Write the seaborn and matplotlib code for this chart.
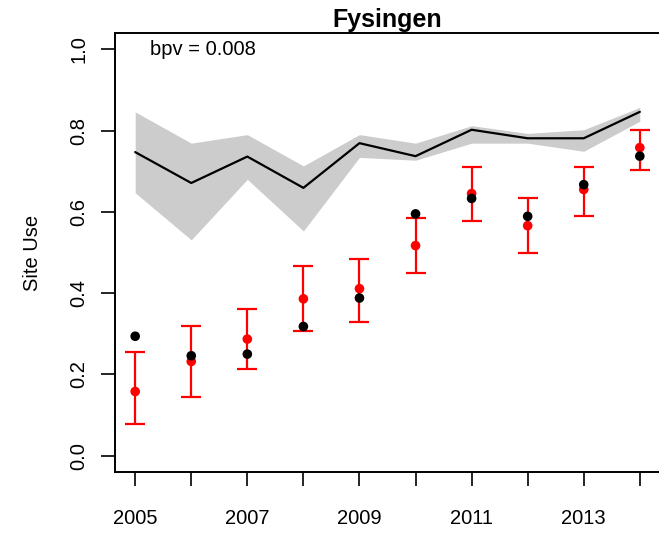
import numpy as np
import pandas as pd
import matplotlib
matplotlib.use("Agg")
import matplotlib.pyplot as plt
import seaborn as sns

# Values
years = [2005, 2006, 2007, 2008, 2009, 2010, 2011, 2012, 2013, 2014]
pred_mean = [0.747, 0.671, 0.736, 0.659, 0.769, 0.737, 0.802, 0.781, 0.781, 0.846]
pred_upper = [0.846, 0.769, 0.790, 0.713, 0.790, 0.769, 0.812, 0.793, 0.802, 0.857]
pred_lower = [0.647, 0.531, 0.680, 0.553, 0.734, 0.727, 0.769, 0.769, 0.749, 0.823]
obs_black = [0.294, 0.246, 0.250, 0.318, 0.388, 0.595, 0.633, 0.589, 0.667, 0.737]
est_red = [0.158, 0.232, 0.287, 0.386, 0.411, 0.517, 0.645, 0.566, 0.655, 0.758]
est_upper = [0.255, 0.319, 0.362, 0.466, 0.483, 0.584, 0.711, 0.633, 0.711, 0.802]
est_lower = [0.079, 0.145, 0.213, 0.307, 0.330, 0.450, 0.578, 0.500, 0.590, 0.703]
x_labels = ["2005", "", "2007", "", "2009", "", "2011", "", "2013", ""]
y_ticks = [0.0, 0.2, 0.4, 0.6, 0.8, 1.0]
title = "Fysingen"
bpv_text = "bpv = 0.008"

df = pd.DataFrame({"year": years, "mean": pred_mean, "lo": pred_lower, "hi": pred_upper,
                   "obs": obs_black, "est": est_red, "est_lo": est_lower, "est_hi": est_upper})

sns.set_style("ticks")
plt.rcParams['font.family'] = ['Liberation Sans', 'DejaVu Sans']
plt.rcParams['text.color'] = 'black'
plt.rcParams['axes.labelcolor'] = 'black'
plt.rcParams['xtick.color'] = 'black'
plt.rcParams['ytick.color'] = 'black'

fig = plt.figure(figsize=(6.59, 5.34), dpi=100)
ax = fig.add_axes([115 / 659, 1 - 472 / 534, 545 / 659, 439 / 534])

# Grey credible band with posterior mean line
ax.fill_between(df["year"], df["lo"], df["hi"], color="#CCCCCC", linewidth=0, zorder=1)
sns.lineplot(data=df, x="year", y="mean", color="black", linewidth=1.6, ax=ax, zorder=2)

# Red estimates with error bars
ax.errorbar(df["year"], df["est"],
            yerr=[df["est"] - df["est_lo"], df["est_hi"] - df["est"]],
            fmt="none", ecolor="red", elinewidth=1.6, capsize=7, capthick=1.6, zorder=3)
sns.scatterplot(data=df, x="year", y="est", color="red", s=48, edgecolor="none", ax=ax, zorder=4)
sns.scatterplot(data=df, x="year", y="obs", color="black", s=48, edgecolor="none", ax=ax, zorder=5)

ax.set_xlim(2004.64, 2014.36)
ax.set_ylim(-0.04, 1.04)
ax.set_xticks(years)
ax.set_xticklabels(x_labels)
ax.set_yticks(y_ticks)
ax.set_yticklabels([f"{v:.1f}" for v in y_ticks], rotation=90, va="center")

ax.tick_params(axis="both", direction="out", length=10, width=1.2, labelsize=14.5, colors="black")
ax.tick_params(axis="x", pad=17)
ax.tick_params(axis="y", pad=9)
for s in ax.spines.values():
    s.set_visible(True)
    s.set_color("black")
    s.set_linewidth(1.4)

ax.set_xlabel("")
ax.set_ylabel("Site Use", fontsize=14.5, labelpad=20, color="black")
ax.set_title(title, fontsize=18, fontweight="bold", pad=4, color="black")
ax.text(2006.21, 1.0, bpv_text, ha="center", va="center", fontsize=14.5, color="black")

fig.savefig("out.png", dpi=100)
